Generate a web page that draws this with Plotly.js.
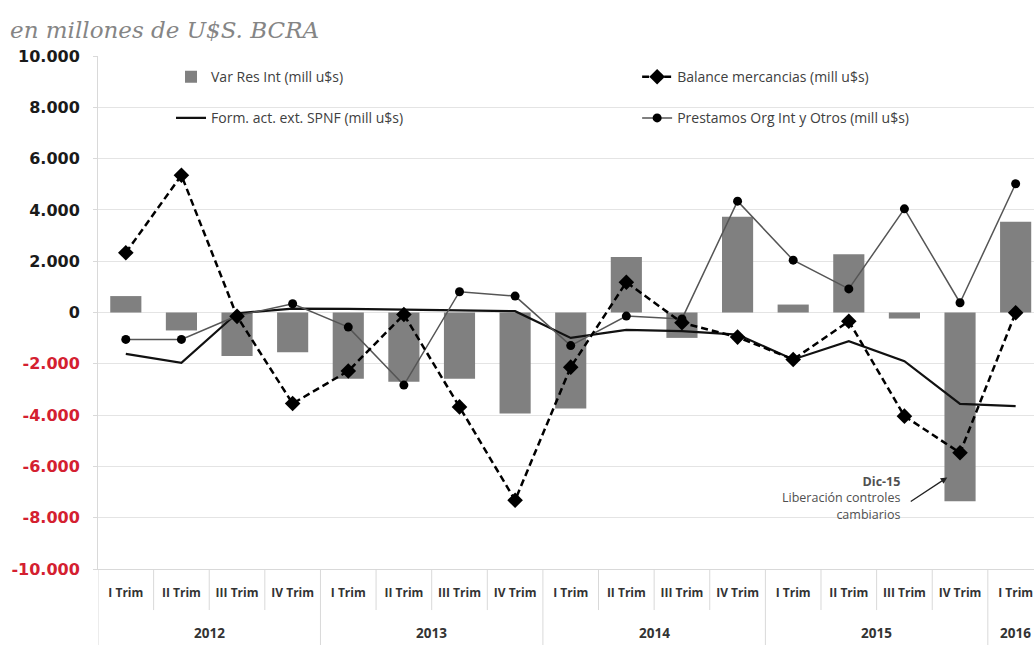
<!DOCTYPE html>
<html>
<head>
<meta charset="utf-8">
<script src="https://cdn.plot.ly/plotly-3.0.1.min.js"></script>
<style>
  html, body { margin: 0; padding: 0; background: #ffffff; overflow: hidden; }
  #chart { width: 1034px; height: 645px; }
</style>
</head>
<body>
<div id="chart"></div>
<script>
// Quarterly series, millions of US dollars
const yearOfQuarter = ['2012','2012','2012','2012','2013','2013','2013','2013',
                       '2014','2014','2014','2014','2015','2015','2015','2015','2016'];
const quarterLabels = ['I Trim','II Trim','III Trim','IV Trim','I Trim','II Trim','III Trim','IV Trim',
                       'I Trim','II Trim','III Trim','IV Trim','I Trim','II Trim','III Trim','IV Trim','I Trim'];

const varResInt   = [640, -700, -1700, -1550, -2580, -2700, -2580, -3940, -3740, 2160, -990, 3730, 310, 2270, -235, -7360, 3540];
const balanceMerc = [2330, 5350, -150, -3550, -2280, -80, -3680, -7320, -2130, 1180, -400, -960, -1830, -340, -4040, -5470, -10];
const formActExt  = [-1610, -1960, -30, 150, 140, 120, 80, 50, -990, -680, -730, -860, -1830, -1120, -1900, -3560, -3650];
const prestamos   = [-1050, -1050, -130, 340, -570, -2830, 810, 640, -1290, -140, -250, 4340, 2040, 920, 4040, 380, 5020];

const yTickVals = [10000, 8000, 6000, 4000, 2000, 0, -2000, -4000, -6000, -8000, -10000];
const yTickText = ['10.000','8.000','6.000','4.000','2.000','0','-2.000','-4.000','-6.000','-8.000','-10.000'];

// unique category keys: quarter + year
const cats = quarterLabels.map((q, i) => q + ' ' + yearOfQuarter[i]);

const traces = [
  {
    type: 'bar', x: cats, y: varResInt, name: 'Var Res Int (mill u$s)',
    marker: { color: '#808080' }, width: 0.56,
    legend: 'legend', legendgroup: 'a', legendrank: 1
  },
  {
    type: 'scatter', mode: 'lines', x: cats, y: formActExt, name: 'Form. act. ext. SPNF (mill u$s)',
    line: { color: '#111111', width: 2.2 },
    legend: 'legend', legendgroup: 'b', legendrank: 2
  },
  {
    type: 'scatter', mode: 'lines+markers', x: cats, y: prestamos, name: 'Prestamos Org Int y Otros (mill u$s)',
    line: { color: '#555555', width: 1.5 },
    marker: { symbol: 'circle', size: 9, color: '#000000' },
    legend: 'legend2', legendgroup: 'd', legendrank: 2
  },
  {
    type: 'scatter', mode: 'lines+markers', x: cats, y: balanceMerc, name: 'Balance mercancias (mill u$s)',
    line: { color: '#000000', width: 2.5, dash: '7px,4px' },
    marker: { symbol: 'diamond', size: 12, color: '#000000' },
    legend: 'legend2', legendgroup: 'c', legendrank: 1
  }
];

// separators under the category axis: short ones between quarters, long ones between years
const shapes = [];
const gridCol = '#d9d9d9';
for (let i = 0; i <= cats.length - 1; i++) {
  const b = i - 0.5;
  const yearEdge = (i === 0) || (yearOfQuarter[i] !== yearOfQuarter[i - 1]);
  shapes.push({
    type: 'line', xref: 'x', yref: 'paper', x0: b, x1: b,
    y0: 0, y1: yearEdge ? -0.16 : -0.08,
    line: { color: gridCol, width: 1 }
  });
}

// year labels centred under their quarters
const annotations = [];
const yearsSeen = [];
yearOfQuarter.forEach((y, i) => { if (!yearsSeen.includes(y)) yearsSeen.push(y); });
yearsSeen.forEach(y => {
  const idx = yearOfQuarter.map((v, i) => v === y ? i : -1).filter(i => i >= 0);
  const mid = (idx[0] + idx[idx.length - 1]) / 2;
  annotations.push({
    xref: 'x', yref: 'paper', x: mid, y: -0.125, text: '<b>' + y + '</b>',
    showarrow: false, xanchor: 'center', yanchor: 'middle',
    font: { family: 'Open Sans', size: 13.5, color: '#333333' }
  });
});

// note on the December 2015 bar
annotations.push({
  xref: 'x', yref: 'y', x: 13.96, y: -7250,
  text: '<b>Dic-15</b><br>Liberación controles<br>cambiarios',
  showarrow: false, align: 'right', xanchor: 'right', yanchor: 'middle',
  font: { family: 'Open Sans', size: 12.5, color: '#505050' }
});
annotations.push({
  xref: 'x', yref: 'y', x: 14.77, y: -6430, ax: -38, ay: 25,
  text: '', showarrow: true, arrowhead: 2, arrowsize: 1, arrowwidth: 1.3, arrowcolor: '#222222'
});

const layout = {
  width: 1034, height: 645,
  margin: { l: 98, r: 0, t: 56, b: 76 },
  paper_bgcolor: '#ffffff', plot_bgcolor: '#ffffff',
  title: {
    text: 'en millones de U$S. BCRA',
    xref: 'container', yref: 'container', x: 0.0097, xanchor: 'left', y: 0.953, yanchor: 'middle',
    font: { family: 'DejaVu Serif', style: 'italic', size: 23, color: '#858585' }
  },
  barmode: 'overlay',
  showlegend: true,
  legend: {
    x: 0.078, y: 0.99, xanchor: 'left', yanchor: 'top',
    bgcolor: 'rgba(0,0,0,0)', traceorder: 'grouped', tracegroupgap: 20,
    font: { family: 'Open Sans', size: 14, color: '#404040' }
  },
  legend2: {
    x: 0.576, y: 0.99, xanchor: 'left', yanchor: 'top',
    bgcolor: 'rgba(0,0,0,0)', traceorder: 'grouped', tracegroupgap: 20,
    font: { family: 'Open Sans', size: 14, color: '#404040' }
  },
  xaxis: {
    type: 'category', range: [-0.5, 16.33], automargin: false,
    tickmode: 'array', tickvals: cats, ticktext: quarterLabels,
    ticks: '', showgrid: false, zeroline: false,
    showline: true, linecolor: gridCol, linewidth: 1,
    ticklabelstandoff: 13,
    tickfont: { family: 'Open Sans', size: 12, weight: 'bold', color: '#333333' }
  },
  yaxis: {
    range: [-10000, 10000], automargin: false,
    tickmode: 'array', tickvals: yTickVals,
    ticktext: yTickText.map((t, i) => yTickVals[i] < 0 ? '<span style="color:#d42030">' + t + '</span>' : t),
    ticks: 'outside', ticklen: 4, tickcolor: gridCol, ticklabelstandoff: 10,
    showgrid: true, gridcolor: '#e4e4e4', gridwidth: 1,
    zeroline: true, zerolinecolor: '#e4e4e4', zerolinewidth: 1,
    showline: true, linecolor: gridCol, linewidth: 1,
    tickfont: { family: 'DejaVu Sans', size: 16, weight: 'bold', color: '#1a1a1a' }
  },
  shapes: shapes,
  annotations: annotations
};

Plotly.newPlot('chart', traces, layout, { staticPlot: true, displayModeBar: false });
</script>
</body>
</html>
